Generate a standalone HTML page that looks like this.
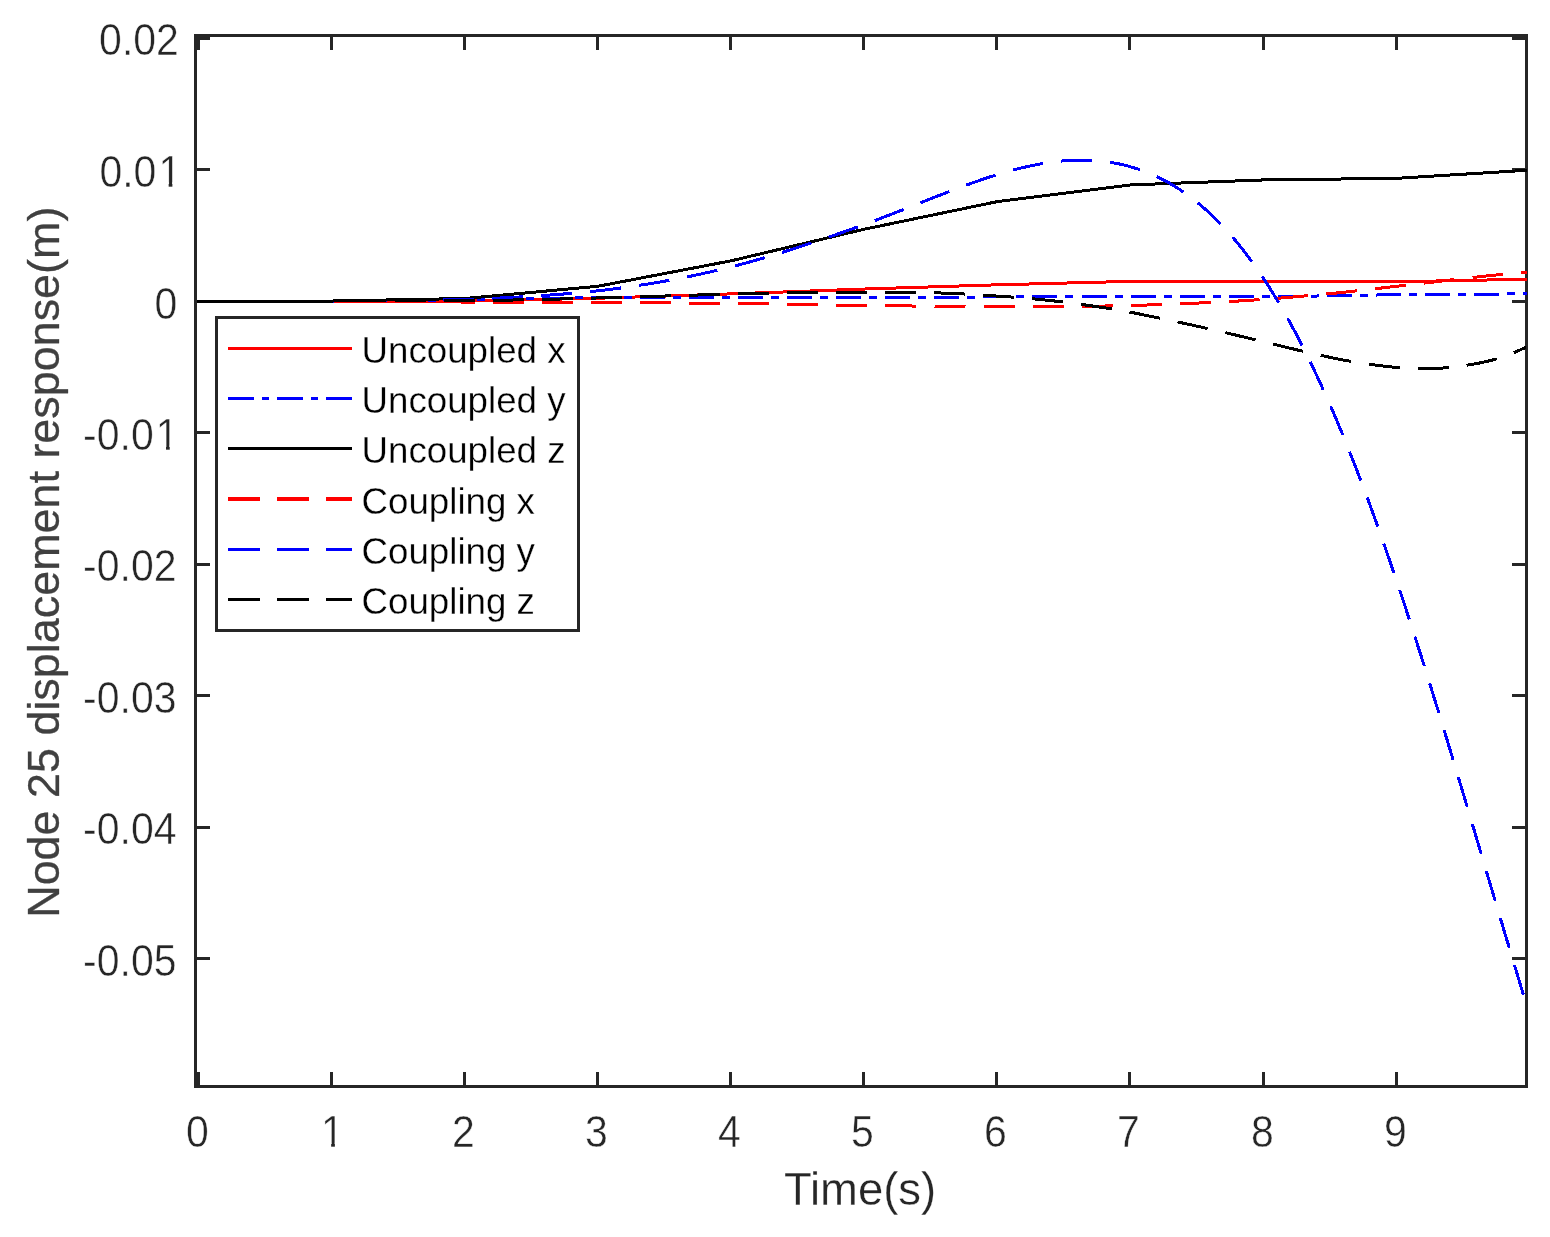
<!DOCTYPE html>
<html lang="en">
<head>
<meta charset="utf-8">
<title>Node 25 displacement response</title>
<style>
html,body{margin:0;padding:0;background:#ffffff;}
body{width:1550px;height:1237px;overflow:hidden;}
svg text{white-space:pre;}
</style>
</head>
<body>
<svg width="1550" height="1237" viewBox="0 0 1550 1237" style="display:block">
<defs><clipPath id="plotclip"><rect x="197" y="37" width="1330" height="1048"/></clipPath></defs>
<rect x="0" y="0" width="1550" height="1237" fill="#ffffff"/>
<g fill="#262626" shape-rendering="crispEdges">
<rect x="194" y="34" width="1334" height="3"/>
<rect x="194" y="1085" width="1334" height="3"/>
<rect x="194" y="34" width="3" height="1054"/>
<rect x="1525" y="34" width="3" height="1054"/>
<rect x="197" y="1072" width="3" height="13"/>
<rect x="197" y="37" width="3" height="13"/>
<rect x="330" y="1072" width="3" height="13"/>
<rect x="330" y="37" width="3" height="13"/>
<rect x="463" y="1072" width="3" height="13"/>
<rect x="463" y="37" width="3" height="13"/>
<rect x="596" y="1072" width="3" height="13"/>
<rect x="596" y="37" width="3" height="13"/>
<rect x="729" y="1072" width="3" height="13"/>
<rect x="729" y="37" width="3" height="13"/>
<rect x="862" y="1072" width="3" height="13"/>
<rect x="862" y="37" width="3" height="13"/>
<rect x="995" y="1072" width="3" height="13"/>
<rect x="995" y="37" width="3" height="13"/>
<rect x="1128" y="1072" width="3" height="13"/>
<rect x="1128" y="37" width="3" height="13"/>
<rect x="1262" y="1072" width="3" height="13"/>
<rect x="1262" y="37" width="3" height="13"/>
<rect x="1395" y="1072" width="3" height="13"/>
<rect x="1395" y="37" width="3" height="13"/>
<rect x="197" y="37" width="13" height="3"/>
<rect x="1512" y="37" width="13" height="3"/>
<rect x="197" y="168" width="13" height="3"/>
<rect x="1512" y="168" width="13" height="3"/>
<rect x="197" y="300" width="13" height="3"/>
<rect x="1512" y="300" width="13" height="3"/>
<rect x="197" y="431" width="13" height="3"/>
<rect x="1512" y="431" width="13" height="3"/>
<rect x="197" y="563" width="13" height="3"/>
<rect x="1512" y="563" width="13" height="3"/>
<rect x="197" y="694" width="13" height="3"/>
<rect x="1512" y="694" width="13" height="3"/>
<rect x="197" y="826" width="13" height="3"/>
<rect x="1512" y="826" width="13" height="3"/>
<rect x="197" y="957" width="13" height="3"/>
<rect x="1512" y="957" width="13" height="3"/>
</g>
<g fill="none" stroke-width="3" shape-rendering="crispEdges" stroke-linejoin="round" clip-path="url(#plotclip)">
<path d="M198.60,301.03 L331.73,301.03 L464.85,301.11 L597.98,298.22 L731.10,293.88 L864.23,289.02 L997.35,284.81 L1130.47,281.39 L1263.60,281.79 L1396.72,281.79 L1529.85,279.16" stroke="#ff0000"/>
<path d="M198.60,301.03 L331.73,301.03 L464.85,299.93 L597.98,297.56 L731.10,297.56 L864.23,297.56 L997.35,296.90 L1130.47,296.90 L1263.60,296.90 L1396.72,294.67 L1529.85,293.88" stroke="#0000ff" stroke-dasharray="25 8 8 8.07" stroke-dashoffset="0.3"/>
<path d="M196.00,301.03 L198.60,301.03 L331.73,301.03 L464.85,298.53 L597.98,286.26 L731.10,260.81 L864.23,229.22 L997.35,201.62 L1130.47,184.92 L1263.60,179.93 L1396.72,178.35 L1529.85,170.07" stroke="#000000"/>
<path d="M198.60,301.03 L210.81,301.03 L223.03,301.03 L235.24,301.03 L247.45,301.03 L259.67,301.03 L271.88,301.03 L284.09,301.03 L296.31,301.03 L308.52,301.03 L320.73,301.03 L332.95,301.03 L345.16,301.05 L357.37,301.11 L369.59,301.19 L381.80,301.29 L394.01,301.40 L406.23,301.52 L418.44,301.64 L430.65,301.76 L442.87,301.87 L455.08,301.97 L467.29,302.04 L479.51,302.10 L491.72,302.16 L503.93,302.22 L516.15,302.27 L528.36,302.32 L540.57,302.37 L552.79,302.41 L565.00,302.44 L577.21,302.47 L589.43,302.50 L601.64,302.52 L613.85,302.56 L626.07,302.62 L638.28,302.69 L650.49,302.77 L662.71,302.86 L674.92,302.96 L687.13,303.07 L699.35,303.18 L711.56,303.31 L723.77,303.43 L735.99,303.56 L748.20,303.69 L760.41,303.85 L772.63,304.03 L784.84,304.23 L797.05,304.43 L809.27,304.64 L821.48,304.84 L833.69,305.03 L845.91,305.21 L858.12,305.38 L870.33,305.51 L882.54,305.66 L894.76,305.80 L906.97,305.95 L919.18,306.08 L931.40,306.21 L943.61,306.32 L955.82,306.41 L968.04,306.47 L980.25,306.50 L992.46,306.50 L1004.68,306.50 L1016.89,306.50 L1029.10,306.50 L1041.32,306.50 L1053.53,306.50 L1065.74,306.50 L1077.96,306.43 L1090.17,306.27 L1102.38,306.06 L1114.60,305.80 L1126.81,305.53 L1139.02,305.24 L1151.24,304.87 L1163.45,304.44 L1175.66,303.97 L1187.88,303.47 L1200.09,302.95 L1212.30,302.40 L1224.52,301.79 L1236.73,301.12 L1248.94,300.38 L1261.16,299.54 L1273.37,298.63 L1285.58,297.64 L1297.80,296.59 L1310.01,295.50 L1322.22,294.37 L1334.44,293.21 L1346.65,291.95 L1358.86,290.61 L1371.08,289.22 L1383.29,287.80 L1395.50,286.39 L1407.72,285.02 L1419.93,283.62 L1432.14,282.18 L1444.36,280.72 L1456.57,279.28 L1468.78,277.87 L1481.00,276.53 L1493.21,275.29 L1505.42,274.18 L1517.64,273.20 L1529.85,272.33" stroke="#ff0000" stroke-dasharray="31 18.03" stroke-dashoffset="-0.5"/>
<path d="M198.50,301.03 L206.87,301.03 L215.24,301.03 L223.61,301.03 L231.98,301.03 L240.36,301.03 L248.73,301.03 L257.10,301.03 L265.47,301.03 L273.84,301.03 L282.21,301.03 L290.58,301.03 L298.95,301.03 L307.32,301.03 L315.69,301.03 L324.07,301.03 L332.44,301.03 L340.81,301.02 L349.18,300.99 L357.55,300.95 L365.92,300.92 L374.29,300.89 L382.66,300.87 L391.03,300.85 L399.41,300.83 L407.78,300.81 L416.15,300.79 L424.52,300.77 L428.00,300.77 L434.00,300.75 L434.01,300.00 L442.00,299.86 L449.63,299.69 L458.00,299.49 L466.37,299.26 L474.75,299.00 L483.12,298.70 L491.49,298.37 L499.86,298.00 L508.23,297.60 L516.60,297.15 L524.97,296.67 L533.34,296.14 L541.71,295.57 L550.08,295.01 L558.46,294.40 L566.83,293.74 L575.20,293.03 L583.57,292.26 L591.94,291.44 L600.31,290.55 L608.68,289.55 L617.05,288.48 L625.42,287.35 L633.80,286.16 L642.17,284.89 L650.54,283.56 L658.91,282.16 L667.28,280.68 L675.65,279.13 L684.02,277.50 L692.39,275.80 L700.76,274.01 L709.14,272.15 L717.51,270.20 L725.88,268.18 L734.25,266.07 L742.62,263.90 L750.99,261.64 L759.36,259.25 L767.73,256.80 L776.10,254.28 L784.47,251.69 L792.85,249.04 L801.22,246.32 L809.59,243.55 L817.96,240.77 L826.33,237.95 L834.70,235.07 L843.07,232.13 L851.44,229.15 L859.81,226.11 L868.19,223.03 L876.56,219.90 L884.93,216.73 L893.30,213.52 L901.67,210.26 L910.04,206.97 L918.41,203.66 L926.78,200.33 L935.15,197.02 L943.53,193.74 L951.90,190.51 L960.27,187.34 L968.64,184.26 L977.01,181.28 L985.38,178.42 L993.75,175.70 L1002.12,173.14 L1010.49,170.75 L1018.86,168.56 L1027.24,166.57 L1035.61,164.82 L1043.98,163.32 L1052.35,162.08 L1060.72,161.13 L1069.09,160.48 L1077.46,160.15 L1085.83,160.17 L1094.20,160.54 L1102.58,161.28 L1110.95,162.42 L1119.32,163.97 L1127.69,165.96 L1136.06,168.41 L1144.43,171.33 L1152.80,174.76 L1161.17,178.72 L1169.54,183.22 L1177.92,188.30 L1186.29,193.97 L1194.66,200.26 L1203.03,207.19 L1211.40,214.79 L1219.77,223.07 L1228.14,232.06 L1236.51,241.79 L1244.88,252.27 L1253.25,263.53 L1261.63,275.59 L1270.00,288.47 L1278.37,302.18 L1286.74,316.71 L1295.11,332.06 L1303.48,348.22 L1311.85,365.20 L1320.22,382.98 L1328.59,401.56 L1336.97,420.94 L1345.34,441.12 L1353.71,462.08 L1362.08,483.82 L1370.45,506.30 L1378.82,529.48 L1387.19,553.33 L1395.56,577.80 L1403.93,602.88 L1412.31,628.50 L1420.68,654.65 L1429.05,681.28 L1437.42,708.30 L1445.79,735.68 L1454.16,763.33 L1462.53,791.21 L1470.90,819.24 L1479.27,847.36 L1487.64,875.51 L1496.02,903.63 L1504.39,931.65 L1512.76,959.51 L1521.13,987.16 L1529.50,1014.51" stroke="#0000ff" stroke-dasharray="31 18.03" stroke-dashoffset="-0.5"/>
<path d="M198.60,301.03 L210.78,301.03 L222.95,301.03 L235.13,301.03 L247.31,301.03 L259.48,301.03 L271.66,301.03 L283.84,301.03 L296.01,301.03 L308.19,301.03 L320.37,301.03 L332.54,301.03 L344.72,301.01 L356.90,300.96 L369.07,300.91 L381.25,300.87 L393.43,300.84 L405.60,300.82 L417.78,300.79 L429.96,300.76 L442.13,300.73 L454.31,300.68 L466.49,300.63 L478.66,300.53 L490.84,300.37 L503.02,300.18 L515.19,299.97 L527.37,299.74 L539.55,299.50 L551.72,299.22 L563.90,298.91 L576.08,298.57 L588.25,298.22 L600.43,297.87 L612.61,297.52 L624.78,297.18 L636.96,296.83 L649.14,296.47 L661.31,296.11 L673.49,295.74 L685.67,295.37 L697.84,295.01 L710.02,294.63 L722.20,294.23 L734.37,293.86 L746.55,293.58 L758.73,293.34 L770.90,293.11 L783.08,292.89 L795.26,292.68 L807.43,292.49 L819.61,292.33 L831.79,292.20 L843.96,292.10 L856.14,292.05 L868.32,292.04 L880.49,292.09 L892.67,292.20 L904.85,292.35 L917.02,292.54 L929.20,292.77 L941.38,293.03 L953.55,293.42 L965.73,294.10 L977.91,294.89 L990.08,295.65 L1002.26,296.43 L1014.44,297.27 L1026.61,298.22 L1038.79,299.32 L1050.97,300.59 L1063.14,302.01 L1075.32,303.58 L1087.50,305.27 L1099.67,307.06 L1111.85,308.93 L1124.03,311.01 L1136.20,313.36 L1148.38,315.85 L1160.56,318.36 L1172.73,320.89 L1184.91,323.50 L1197.09,326.17 L1209.26,328.89 L1221.44,331.69 L1233.62,334.57 L1245.79,337.47 L1257.97,340.38 L1270.15,343.35 L1282.32,346.35 L1294.50,349.28 L1306.68,352.08 L1318.85,354.88 L1331.03,357.59 L1343.21,360.05 L1355.38,362.10 L1367.56,363.97 L1379.74,365.64 L1391.91,366.99 L1404.09,367.95 L1416.27,368.72 L1428.44,368.88 L1440.62,368.22 L1452.80,366.98 L1464.97,365.47 L1477.15,363.57 L1489.33,360.85 L1501.50,357.45 L1513.68,352.85 L1525.86,347.24" stroke="#000000" stroke-dasharray="31 18.03" stroke-dashoffset="-0.5"/>
</g>
<g font-family="'Liberation Sans', Arial, Helvetica, sans-serif" font-size="41" fill="#262626" stroke="#ffffff" stroke-width="0.45">
<text transform="translate(197.3,1147.0) scale(1,1.065)" text-anchor="middle">0</text>
<text transform="translate(320.90,1147.0) scale(1,1.065)">1</text>
<text transform="translate(463.3,1147.0) scale(1,1.065)" text-anchor="middle">2</text>
<text transform="translate(596.3,1147.0) scale(1,1.065)" text-anchor="middle">3</text>
<text transform="translate(729.3,1147.0) scale(1,1.065)" text-anchor="middle">4</text>
<text transform="translate(862.3,1147.0) scale(1,1.065)" text-anchor="middle">5</text>
<text transform="translate(995.3,1147.0) scale(1,1.065)" text-anchor="middle">6</text>
<text transform="translate(1128.3,1147.0) scale(1,1.065)" text-anchor="middle">7</text>
<text transform="translate(1262.3,1147.0) scale(1,1.065)" text-anchor="middle">8</text>
<text transform="translate(1395.3,1147.0) scale(1,1.065)" text-anchor="middle">9</text>
<text transform="translate(99.1,54.6) scale(1,1.065)">0.02</text>
<text transform="translate(99.4,186.5) scale(1,1.065)">0.0<tspan dx="2.0">1</tspan></text>
<text transform="translate(154.4,318.6) scale(1,1.065)">0</text>
<text transform="translate(83.1,449.6) scale(1,1.065)">-0.0<tspan dx="2.0">1</tspan></text>
<text transform="translate(83.1,581.1) scale(1,1.065)">-0.02</text>
<text transform="translate(83.1,712.6) scale(1,1.065)">-0.03</text>
<text transform="translate(83.1,844.1) scale(1,1.065)">-0.04</text>
<text transform="translate(83.1,975.6) scale(1,1.065)">-0.05</text>
</g>
<g fill="#ffffff"><rect x="322.82" y="1142.74" width="8.34" height="5.26"/><rect x="334.88" y="1142.74" width="8.02" height="5.26"/><rect x="160.32" y="182.24" width="8.34" height="5.26"/><rect x="172.38" y="182.24" width="8.02" height="5.26"/><rect x="157.67" y="445.34" width="8.34" height="5.26"/><rect x="169.73" y="445.34" width="8.02" height="5.26"/></g>
<text transform="translate(860.0,1204.8) scale(1.01,1.02)" text-anchor="middle" font-family="'Liberation Sans', Arial, Helvetica, sans-serif" font-size="45" fill="#262626" stroke="#ffffff" stroke-width="0.3">Time(s)</text>
<text transform="translate(59,562.2) rotate(-90) scale(0.998,1)" text-anchor="middle" font-family="'Liberation Sans', Arial, Helvetica, sans-serif" font-size="45" fill="#404040" stroke="#404040" stroke-width="0.3">Node 25 displacement response(m)</text>
<g shape-rendering="crispEdges">
<rect x="216.5" y="317.5" width="362" height="313" fill="#ffffff" stroke="#262626" stroke-width="3"/>
<path d="M228,348.5 L352,348.5" stroke="#ff0000" stroke-width="3" fill="none"/>
<path d="M228,398.5 L352,398.5" stroke="#0000ff" stroke-width="3" fill="none" stroke-dasharray="26 8 7 8"/>
<path d="M228,448.5 L352,448.5" stroke="#000000" stroke-width="3" fill="none"/>
<path d="M228,499 L352,499" stroke="#ff0000" stroke-width="4" fill="none" stroke-dasharray="32 17"/>
<path d="M228,549.5 L352,549.5" stroke="#0000ff" stroke-width="3" fill="none" stroke-dasharray="32 17"/>
<path d="M228,599.5 L352,599.5" stroke="#000000" stroke-width="3" fill="none" stroke-dasharray="32 17"/>
</g>
<g font-family="'Liberation Sans', Arial, Helvetica, sans-serif" font-size="37" fill="#000000" stroke="#ffffff" stroke-width="0.3">
<text transform="translate(361.5,362.9) scale(0.992,1)">Uncoupled x</text>
<text transform="translate(361.5,412.9) scale(0.992,1)">Uncoupled y</text>
<text transform="translate(361.5,462.9) scale(0.992,1)">Uncoupled z</text>
<text transform="translate(361.5,513.7) scale(0.992,1)">Coupling x</text>
<text transform="translate(361.5,564.1) scale(0.992,1)">Coupling y</text>
<text transform="translate(361.5,614.3) scale(0.992,1)">Coupling z</text>
</g>
</svg>
</body>
</html>
